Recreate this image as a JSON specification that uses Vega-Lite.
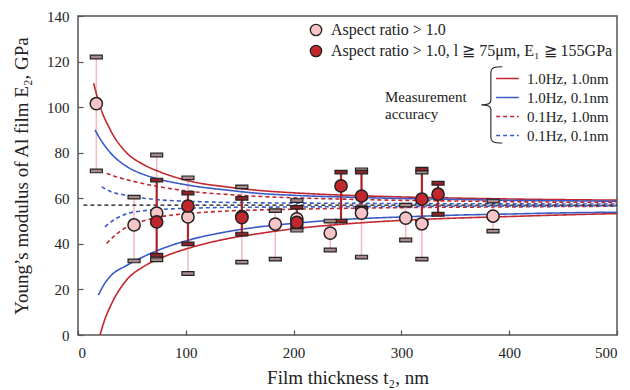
{
  "$schema": "https://vega.github.io/schema/vega-lite/v6.json",
  "width": 539,
  "height": 319,
  "autosize": {"type": "none"},
  "padding": {"left": 78, "top": 16, "right": 13, "bottom": 55},
  "config": {
    "view": {"stroke": "#555", "strokeWidth": 1.5},
    "font": "Liberation Serif",
    "axis": {"grid": false, "domain": false, "tickColor": "#555", "tickSize": 5, "offset": -5, "tickWidth": 1.2, "labelFont": "Liberation Serif", "labelFontSize": 15, "labelColor": "#222", "titleFont": "Liberation Serif", "titleFontSize": 19, "titleFontWeight": "normal", "titleColor": "#222"},
    "legend": {"labelFont": "Liberation Serif", "labelFontSize": 15, "titleFont": "Liberation Serif", "titleFontSize": 15, "titleFontWeight": "normal", "labelColor": "#222", "titleColor": "#222", "padding": 0, "labelLimit": 500}
  },
  "datasets": {
    "points": [
      {"t": 17, "E": 101.5, "lo": 72, "hi": 122, "type": "Aspect ratio > 1.0"},
      {"t": 52, "E": 48.3, "lo": 32.5, "hi": 60.5, "type": "Aspect ratio > 1.0"},
      {"t": 73, "E": 53.5, "lo": 33, "hi": 79, "type": "Aspect ratio > 1.0"},
      {"t": 102, "E": 51.8, "lo": 27, "hi": 69, "type": "Aspect ratio > 1.0"},
      {"t": 152, "E": 52, "lo": 32, "hi": 65, "type": "Aspect ratio > 1.0"},
      {"t": 183, "E": 48.7, "lo": 33.3, "hi": 54.6, "type": "Aspect ratio > 1.0"},
      {"t": 203, "E": 51, "lo": 46, "hi": 59, "type": "Aspect ratio > 1.0"},
      {"t": 234, "E": 44.7, "lo": 37.3, "hi": 50, "type": "Aspect ratio > 1.0"},
      {"t": 263, "E": 53.5, "lo": 34.2, "hi": 72.5, "type": "Aspect ratio > 1.0"},
      {"t": 304, "E": 51.3, "lo": 41.7, "hi": 57, "type": "Aspect ratio > 1.0"},
      {"t": 319, "E": 48.8, "lo": 33.3, "hi": 71.5, "type": "Aspect ratio > 1.0"},
      {"t": 385, "E": 52.2, "lo": 45.6, "hi": 58.8, "type": "Aspect ratio > 1.0"},
      {"t": 73, "E": 49.6, "lo": 35, "hi": 68, "type": "Aspect ratio > 1.0, l ≧ 75μm, E₁ ≧ 155GPa"},
      {"t": 102, "E": 56.6, "lo": 40, "hi": 62.3, "type": "Aspect ratio > 1.0, l ≧ 75μm, E₁ ≧ 155GPa"},
      {"t": 152, "E": 51.5, "lo": 44.3, "hi": 60, "type": "Aspect ratio > 1.0, l ≧ 75μm, E₁ ≧ 155GPa"},
      {"t": 203, "E": 49.4, "lo": 47.5, "hi": 56, "type": "Aspect ratio > 1.0, l ≧ 75μm, E₁ ≧ 155GPa"},
      {"t": 244, "E": 65.4, "lo": 50, "hi": 71.5, "type": "Aspect ratio > 1.0, l ≧ 75μm, E₁ ≧ 155GPa"},
      {"t": 263, "E": 61, "lo": 55.7, "hi": 71.5, "type": "Aspect ratio > 1.0, l ≧ 75μm, E₁ ≧ 155GPa"},
      {"t": 319, "E": 59.6, "lo": 49.6, "hi": 72.8, "type": "Aspect ratio > 1.0, l ≧ 75μm, E₁ ≧ 155GPa"},
      {"t": 334, "E": 61.8, "lo": 53, "hi": 66.6, "type": "Aspect ratio > 1.0, l ≧ 75μm, E₁ ≧ 155GPa"}
    ],
    "curves": [
      {"series": "1.0Hz, 1.0nm", "part": "up", "t": 14.5, "E": 110.5},
      {"series": "1.0Hz, 1.0nm", "part": "up", "t": 20, "E": 101},
      {"series": "1.0Hz, 1.0nm", "part": "up", "t": 30, "E": 90},
      {"series": "1.0Hz, 1.0nm", "part": "up", "t": 45, "E": 80},
      {"series": "1.0Hz, 1.0nm", "part": "up", "t": 60, "E": 75},
      {"series": "1.0Hz, 1.0nm", "part": "up", "t": 76, "E": 71.6},
      {"series": "1.0Hz, 1.0nm", "part": "up", "t": 107, "E": 67.2},
      {"series": "1.0Hz, 1.0nm", "part": "up", "t": 138, "E": 65},
      {"series": "1.0Hz, 1.0nm", "part": "up", "t": 169, "E": 63.4},
      {"series": "1.0Hz, 1.0nm", "part": "up", "t": 200, "E": 62.4},
      {"series": "1.0Hz, 1.0nm", "part": "up", "t": 250, "E": 61.3},
      {"series": "1.0Hz, 1.0nm", "part": "up", "t": 300, "E": 60.6},
      {"series": "1.0Hz, 1.0nm", "part": "up", "t": 350, "E": 60.1},
      {"series": "1.0Hz, 1.0nm", "part": "up", "t": 400, "E": 59.7},
      {"series": "1.0Hz, 1.0nm", "part": "up", "t": 450, "E": 59.4},
      {"series": "1.0Hz, 1.0nm", "part": "up", "t": 500, "E": 59.2},
      {"series": "1.0Hz, 1.0nm", "part": "low", "t": 20.4, "E": 0},
      {"series": "1.0Hz, 1.0nm", "part": "low", "t": 25, "E": 7},
      {"series": "1.0Hz, 1.0nm", "part": "low", "t": 30, "E": 12.6},
      {"series": "1.0Hz, 1.0nm", "part": "low", "t": 45, "E": 24.1},
      {"series": "1.0Hz, 1.0nm", "part": "low", "t": 60, "E": 29.8},
      {"series": "1.0Hz, 1.0nm", "part": "low", "t": 76, "E": 33.6},
      {"series": "1.0Hz, 1.0nm", "part": "low", "t": 107, "E": 38.7},
      {"series": "1.0Hz, 1.0nm", "part": "low", "t": 138, "E": 42.2},
      {"series": "1.0Hz, 1.0nm", "part": "low", "t": 169, "E": 44.6},
      {"series": "1.0Hz, 1.0nm", "part": "low", "t": 200, "E": 46.6},
      {"series": "1.0Hz, 1.0nm", "part": "low", "t": 250, "E": 48.8},
      {"series": "1.0Hz, 1.0nm", "part": "low", "t": 300, "E": 50.3},
      {"series": "1.0Hz, 1.0nm", "part": "low", "t": 350, "E": 51.3},
      {"series": "1.0Hz, 1.0nm", "part": "low", "t": 400, "E": 52},
      {"series": "1.0Hz, 1.0nm", "part": "low", "t": 450, "E": 52.7},
      {"series": "1.0Hz, 1.0nm", "part": "low", "t": 500, "E": 53.3},
      {"series": "1.0Hz, 0.1nm", "part": "up", "t": 15.8, "E": 90},
      {"series": "1.0Hz, 0.1nm", "part": "up", "t": 20, "E": 86.5},
      {"series": "1.0Hz, 0.1nm", "part": "up", "t": 30, "E": 80},
      {"series": "1.0Hz, 0.1nm", "part": "up", "t": 45, "E": 74},
      {"series": "1.0Hz, 0.1nm", "part": "up", "t": 60, "E": 70.6},
      {"series": "1.0Hz, 0.1nm", "part": "up", "t": 76, "E": 68.3},
      {"series": "1.0Hz, 0.1nm", "part": "up", "t": 107, "E": 65.4},
      {"series": "1.0Hz, 0.1nm", "part": "up", "t": 138, "E": 63.6},
      {"series": "1.0Hz, 0.1nm", "part": "up", "t": 169, "E": 62.1},
      {"series": "1.0Hz, 0.1nm", "part": "up", "t": 200, "E": 61.3},
      {"series": "1.0Hz, 0.1nm", "part": "up", "t": 250, "E": 60.5},
      {"series": "1.0Hz, 0.1nm", "part": "up", "t": 300, "E": 59.9},
      {"series": "1.0Hz, 0.1nm", "part": "up", "t": 350, "E": 59.5},
      {"series": "1.0Hz, 0.1nm", "part": "up", "t": 400, "E": 59.1},
      {"series": "1.0Hz, 0.1nm", "part": "up", "t": 450, "E": 58.9},
      {"series": "1.0Hz, 0.1nm", "part": "up", "t": 500, "E": 58.7},
      {"series": "1.0Hz, 0.1nm", "part": "low", "t": 18.9, "E": 17.5},
      {"series": "1.0Hz, 0.1nm", "part": "low", "t": 25, "E": 22.8},
      {"series": "1.0Hz, 0.1nm", "part": "low", "t": 30, "E": 25.8},
      {"series": "1.0Hz, 0.1nm", "part": "low", "t": 45, "E": 30.5},
      {"series": "1.0Hz, 0.1nm", "part": "low", "t": 60, "E": 34.2},
      {"series": "1.0Hz, 0.1nm", "part": "low", "t": 76, "E": 37.5},
      {"series": "1.0Hz, 0.1nm", "part": "low", "t": 107, "E": 42.2},
      {"series": "1.0Hz, 0.1nm", "part": "low", "t": 138, "E": 45.3},
      {"series": "1.0Hz, 0.1nm", "part": "low", "t": 169, "E": 47.5},
      {"series": "1.0Hz, 0.1nm", "part": "low", "t": 200, "E": 49},
      {"series": "1.0Hz, 0.1nm", "part": "low", "t": 250, "E": 50.8},
      {"series": "1.0Hz, 0.1nm", "part": "low", "t": 300, "E": 51.8},
      {"series": "1.0Hz, 0.1nm", "part": "low", "t": 350, "E": 52.6},
      {"series": "1.0Hz, 0.1nm", "part": "low", "t": 400, "E": 53.1},
      {"series": "1.0Hz, 0.1nm", "part": "low", "t": 450, "E": 53.6},
      {"series": "1.0Hz, 0.1nm", "part": "low", "t": 500, "E": 53.9},
      {"series": "0.1Hz, 1.0nm", "part": "up", "t": 26.6, "E": 70.9},
      {"series": "0.1Hz, 1.0nm", "part": "up", "t": 35, "E": 69.5},
      {"series": "0.1Hz, 1.0nm", "part": "up", "t": 45, "E": 68.2},
      {"series": "0.1Hz, 1.0nm", "part": "up", "t": 60, "E": 66.5},
      {"series": "0.1Hz, 1.0nm", "part": "up", "t": 76, "E": 65},
      {"series": "0.1Hz, 1.0nm", "part": "up", "t": 107, "E": 62.9},
      {"series": "0.1Hz, 1.0nm", "part": "up", "t": 138, "E": 61.7},
      {"series": "0.1Hz, 1.0nm", "part": "up", "t": 169, "E": 60.8},
      {"series": "0.1Hz, 1.0nm", "part": "up", "t": 200, "E": 60.2},
      {"series": "0.1Hz, 1.0nm", "part": "up", "t": 250, "E": 59.6},
      {"series": "0.1Hz, 1.0nm", "part": "up", "t": 300, "E": 59.1},
      {"series": "0.1Hz, 1.0nm", "part": "up", "t": 350, "E": 58.8},
      {"series": "0.1Hz, 1.0nm", "part": "up", "t": 400, "E": 58.5},
      {"series": "0.1Hz, 1.0nm", "part": "up", "t": 450, "E": 58.3},
      {"series": "0.1Hz, 1.0nm", "part": "up", "t": 500, "E": 58.2},
      {"series": "0.1Hz, 1.0nm", "part": "low", "t": 26.6, "E": 40.2},
      {"series": "0.1Hz, 1.0nm", "part": "low", "t": 35, "E": 44},
      {"series": "0.1Hz, 1.0nm", "part": "low", "t": 45, "E": 47.3},
      {"series": "0.1Hz, 1.0nm", "part": "low", "t": 60, "E": 50},
      {"series": "0.1Hz, 1.0nm", "part": "low", "t": 76, "E": 51.8},
      {"series": "0.1Hz, 1.0nm", "part": "low", "t": 107, "E": 53.5},
      {"series": "0.1Hz, 1.0nm", "part": "low", "t": 138, "E": 54.4},
      {"series": "0.1Hz, 1.0nm", "part": "low", "t": 169, "E": 54.9},
      {"series": "0.1Hz, 1.0nm", "part": "low", "t": 200, "E": 55.2},
      {"series": "0.1Hz, 1.0nm", "part": "low", "t": 250, "E": 55.6},
      {"series": "0.1Hz, 1.0nm", "part": "low", "t": 300, "E": 55.9},
      {"series": "0.1Hz, 1.0nm", "part": "low", "t": 350, "E": 56.1},
      {"series": "0.1Hz, 1.0nm", "part": "low", "t": 400, "E": 56.2},
      {"series": "0.1Hz, 1.0nm", "part": "low", "t": 450, "E": 56.4},
      {"series": "0.1Hz, 1.0nm", "part": "low", "t": 500, "E": 56.5},
      {"series": "0.1Hz, 0.1nm", "part": "up", "t": 22, "E": 65},
      {"series": "0.1Hz, 0.1nm", "part": "up", "t": 30, "E": 63},
      {"series": "0.1Hz, 0.1nm", "part": "up", "t": 45, "E": 61.3},
      {"series": "0.1Hz, 0.1nm", "part": "up", "t": 60, "E": 60.1},
      {"series": "0.1Hz, 0.1nm", "part": "up", "t": 76, "E": 59.3},
      {"series": "0.1Hz, 0.1nm", "part": "up", "t": 107, "E": 58.6},
      {"series": "0.1Hz, 0.1nm", "part": "up", "t": 138, "E": 58.2},
      {"series": "0.1Hz, 0.1nm", "part": "up", "t": 169, "E": 58},
      {"series": "0.1Hz, 0.1nm", "part": "up", "t": 250, "E": 57.8},
      {"series": "0.1Hz, 0.1nm", "part": "up", "t": 350, "E": 57.6},
      {"series": "0.1Hz, 0.1nm", "part": "up", "t": 500, "E": 57.5},
      {"series": "0.1Hz, 0.1nm", "part": "low", "t": 25, "E": 47.5},
      {"series": "0.1Hz, 0.1nm", "part": "low", "t": 35, "E": 51},
      {"series": "0.1Hz, 0.1nm", "part": "low", "t": 45, "E": 53.2},
      {"series": "0.1Hz, 0.1nm", "part": "low", "t": 60, "E": 54.5},
      {"series": "0.1Hz, 0.1nm", "part": "low", "t": 76, "E": 55.1},
      {"series": "0.1Hz, 0.1nm", "part": "low", "t": 107, "E": 55.7},
      {"series": "0.1Hz, 0.1nm", "part": "low", "t": 138, "E": 56},
      {"series": "0.1Hz, 0.1nm", "part": "low", "t": 169, "E": 56.1},
      {"series": "0.1Hz, 0.1nm", "part": "low", "t": 250, "E": 56.3},
      {"series": "0.1Hz, 0.1nm", "part": "low", "t": 350, "E": 56.5},
      {"series": "0.1Hz, 0.1nm", "part": "low", "t": 500, "E": 56.6}
    ],
    "ref": [
      {"t": 5, "E": 57},
      {"t": 500, "E": 57}
    ]
  },
  "encoding": {
    "x": {"type": "quantitative", "scale": {"domain": [0, 500], "nice": false}, "axis": {"title": "Film thickness t₂, nm", "values": [0, 100, 200, 300, 400, 500], "labelPadding": 10, "titlePadding": 8}},
    "y": {"type": "quantitative", "scale": {"domain": [0, 140], "nice": false}, "axis": {"title": "Young’s modulus of  Al film E₂, GPa", "values": [0, 20, 40, 60, 80, 100, 120, 140], "labelPadding": 9, "titlePadding": 15}}
  },
  "layer": [
    {
      "data": {"name": "points"},
      "transform": [{"filter": "datum.type === 'Aspect ratio > 1.0'"}],
      "mark": {"type": "rule", "color": "#f5b9be", "strokeWidth": 1.5},
      "encoding": {"x": {"field": "t"}, "y": {"field": "lo"}, "y2": {"field": "hi"}}
    },
    {
      "data": {"name": "curves"},
      "mark": {"type": "line", "strokeWidth": 1.6, "clip": true, "interpolate": "monotone"},
      "encoding": {
        "x": {"field": "t"},
        "y": {"field": "E"},
        "detail": {"field": "part"},
        "color": {"field": "series", "type": "nominal", "scale": {"domain": ["1.0Hz, 1.0nm", "1.0Hz, 0.1nm", "0.1Hz, 1.0nm", "0.1Hz, 0.1nm"], "range": ["#c1272d", "#3a5bc7", "#c1272d", "#3a5bc7"]},
          "legend": {"orient": "none", "legendX": 307, "legendY": 52, "title": ["Measurement", "accuracy"], "titleOrient": "left", "titlePadding": 30, "titleAnchor": "middle", "titleBaseline": "middle", "symbolType": "M -1.2 0 L 1.2 0", "symbolSize": 361, "symbolStrokeWidth": 1.6, "rowPadding": 0, "labelOffset": 9}},
        "strokeDash": {"field": "series", "type": "nominal", "scale": {"domain": ["1.0Hz, 1.0nm", "1.0Hz, 0.1nm", "0.1Hz, 1.0nm", "0.1Hz, 0.1nm"], "range": [[1, 0], [1, 0], [4, 3], [4, 3]]},
          "legend": {"orient": "none", "legendX": 307, "legendY": 52, "title": ["Measurement", "accuracy"], "titleOrient": "left", "titlePadding": 30, "titleAnchor": "middle", "titleBaseline": "middle", "symbolType": "M -1.2 0 L 1.2 0", "symbolSize": 361, "symbolStrokeWidth": 1.6, "rowPadding": 0, "labelOffset": 9}}
      }
    },
    {
      "data": {"name": "ref"},
      "mark": {"type": "line", "color": "#111", "strokeWidth": 1.4, "strokeDash": [4, 3]},
      "encoding": {"x": {"field": "t"}, "y": {"field": "E"}}
    },
    {
      "data": {"name": "points"},
      "transform": [{"filter": "datum.type !== 'Aspect ratio > 1.0'"}],
      "mark": {"type": "rule", "color": "#a8262c", "strokeWidth": 2.2},
      "encoding": {"x": {"field": "t"}, "y": {"field": "lo"}, "y2": {"field": "hi"}}
    },
    {
      "data": {"name": "points"},
      "mark": {"type": "point", "shape": "M -1 -0.3 L 1 -0.3 L 1 0.3 L -1 0.3 Z", "size": 144, "filled": true, "stroke": "#222", "strokeWidth": 1.2, "opacity": 1},
      "encoding": {"x": {"field": "t"}, "y": {"field": "lo"},
        "fill": {"condition": {"test": "datum.type === 'Aspect ratio > 1.0'", "value": "#a88a8c"}, "value": "#8e2328"}}
    },
    {
      "data": {"name": "points"},
      "mark": {"type": "point", "shape": "M -1 -0.3 L 1 -0.3 L 1 0.3 L -1 0.3 Z", "size": 144, "filled": true, "stroke": "#222", "strokeWidth": 1.2, "opacity": 1},
      "encoding": {"x": {"field": "t"}, "y": {"field": "hi"},
        "fill": {"condition": {"test": "datum.type === 'Aspect ratio > 1.0'", "value": "#a88a8c"}, "value": "#8e2328"}}
    },
    {
      "data": {"name": "points"},
      "mark": {"type": "point", "shape": "circle", "size": 150, "filled": true, "stroke": "#222", "strokeWidth": 1.5, "opacity": 1},
      "encoding": {"x": {"field": "t"}, "y": {"field": "E"},
        "fill": {"field": "type", "type": "nominal", "scale": {"domain": ["Aspect ratio > 1.0", "Aspect ratio > 1.0, l ≧ 75μm, E₁ ≧ 155GPa"], "range": ["#f7c4c8", "#c1272d"]},
          "legend": {"orient": "none", "legendX": 230, "legendY": 6, "title": null, "symbolType": "circle", "symbolSize": 130, "symbolStrokeColor": "#222", "symbolStrokeWidth": 1.3, "rowPadding": 3, "labelOffset": 7, "labelFontSize": 16, "labelLimit": 500}}
      }
    },
    {
      "data": {"values": [{}]},
      "mark": {"type": "point", "shape": "M 0.3 -1 C 0.05 -1 0 -0.96 0 -0.85 L 0 -0.12 C 0 -0.04 -0.08 0 -0.25 0 C -0.08 0 0 0.04 0 0.12 L 0 0.85 C 0 0.96 0.05 1 0.3 1", "size": 5800, "filled": false, "stroke": "#222", "strokeWidth": 1.1, "opacity": 1},
      "encoding": {"x": {"datum": 383}, "y": {"datum": 101}}
    }
  ]
}
